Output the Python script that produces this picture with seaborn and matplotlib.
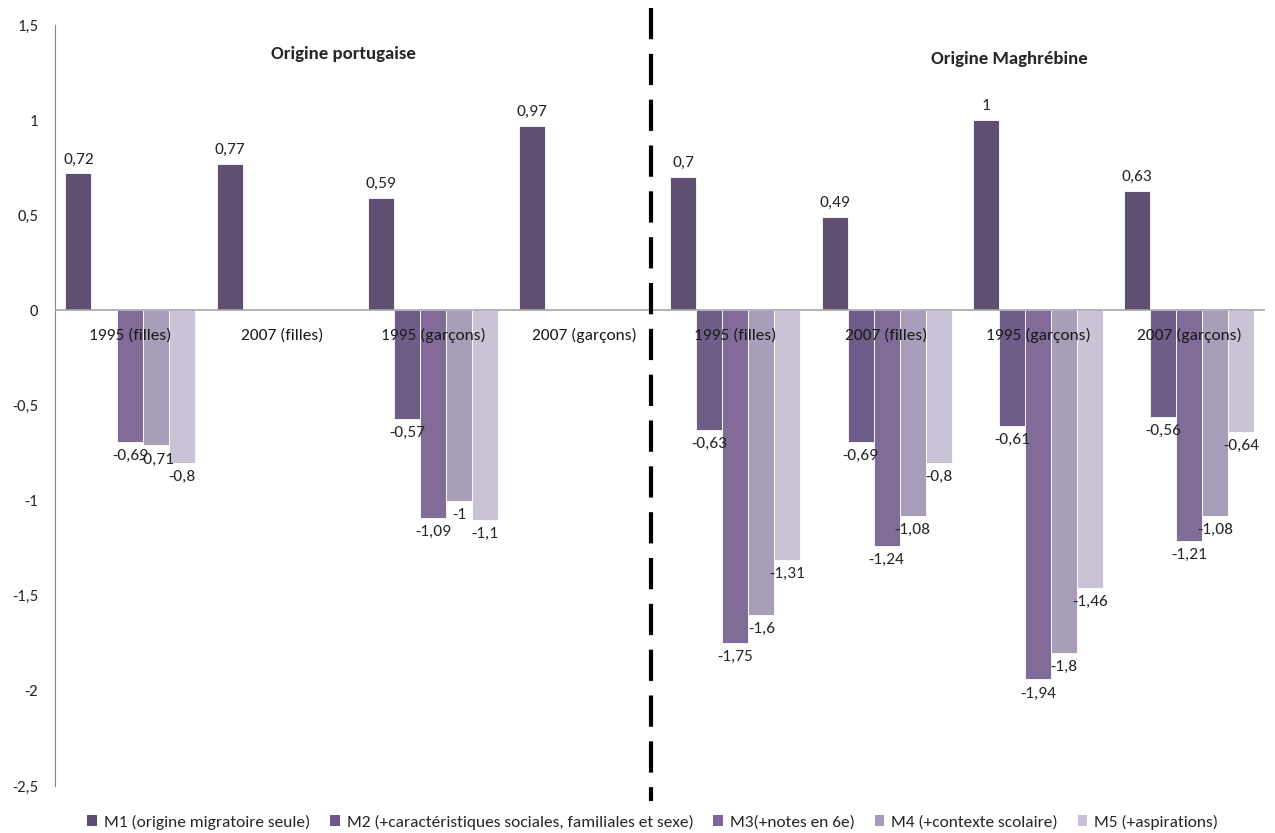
import numpy as np
import pandas as pd
import matplotlib
matplotlib.use("Agg")
import matplotlib.pyplot as plt
import seaborn as sns
from matplotlib.ticker import FuncFormatter
from matplotlib.patches import Patch

categories = ["1995 (filles)", "2007 (filles)", "1995 (garçons)", "2007 (garçons)",
              "1995 (filles) ", "2007 (filles) ", "1995 (garçons) ", "2007 (garçons) "]
series = ["M1 (origine migratoire seule)",
          "M2 (+caractéristiques sociales, familiales et sexe)",
          "M3(+notes en 6e)",
          "M4 (+contexte scolaire)",
          "M5 (+aspirations)"]
m1 = [0.72, 0.77, 0.59, 0.97, 0.70, 0.49, 1.00, 0.63]
m2 = [np.nan, np.nan, -0.57, np.nan, -0.63, -0.69, -0.61, -0.56]
m3 = [-0.69, np.nan, -1.09, np.nan, -1.75, -1.24, -1.94, -1.21]
m4 = [-0.71, np.nan, -1.00, np.nan, -1.60, -1.08, -1.80, -1.08]
m5 = [-0.80, np.nan, -1.10, np.nan, -1.31, -0.80, -1.46, -0.64]
colors = ["#5E4A77", "#6E5690", "#7F63A1", "#A899BE", "#C8C0D8"]

rows = []
for s, vals in zip(series, [m1, m2, m3, m4, m5]):
    for c, v in zip(categories, vals):
        rows.append({"cat": c, "serie": s, "val": v})
df = pd.DataFrame(rows).dropna()

sns.set_style("white")
plt.rcParams["font.family"] = ["Carlito", "Liberation Sans Narrow", "Liberation Sans", "DejaVu Sans"]

fig = plt.figure(figsize=(12.75, 8.33), dpi=100)
ax = fig.add_axes([0.043, 0.0564, 0.949, 0.9136])

sns.barplot(data=df, x="cat", y="val", hue="serie", order=categories, hue_order=series,
            palette=colors, width=0.86, gap=0, dodge=True, errorbar=None,
            edgecolor="white", linewidth=0.6, ax=ax, legend=False)

def fmt(v):
    s = f"{v:.2f}".rstrip("0").rstrip(".")
    return s.replace(".", ",")

for cont in ax.containers:
    labels = [fmt(v) for v in cont.datavalues]
    ax.bar_label(cont, labels=labels, padding=5, fontsize=12.5, color="#262626")

ax.set_ylim(-2.5, 1.5)
ax.set_xlim(-0.5, len(categories) - 0.5)
ax.set_yticks(np.arange(-2.5, 1.51, 0.5))
ax.yaxis.set_major_formatter(FuncFormatter(lambda v, p: fmt(v) if abs(v) > 1e-9 else "0"))
ax.tick_params(axis="y", length=0, pad=12, labelsize=12, labelcolor="#262626")
ax.set_xticks([])
ax.set_xlabel("")
ax.set_ylabel("")
for sp in ["top", "right", "bottom"]:
    ax.spines[sp].set_visible(False)
ax.spines["left"].set_color("#868686")
ax.axhline(0, color="#A6A6A6", lw=1.2, zorder=3)

for i, c in enumerate(categories):
    ax.text(i, -0.13, c.strip(), ha="center", va="center", fontsize=12.5, color="#1a1a1a", zorder=5)

ax.text(1.41, 1.35, "Origine portugaise", ha="center", va="center", fontsize=13.5, fontweight="bold")
ax.text(5.81, 1.32, "Origine Maghrébine", ha="center", va="center", fontsize=13.5, fontweight="bold")

ax.plot([3.44, 3.44], [1.59, -2.58], color="black", lw=3, dashes=(7.5, 3.5), clip_on=False, zorder=6)

handles = [Patch(facecolor=col, edgecolor="none") for col in colors]
fig.legend(handles, series, loc="center", bbox_to_anchor=(0.512, 0.013), ncol=5, frameon=False,
           fontsize=12.5, handlelength=0.55, handleheight=0.55, handletextpad=0.4, columnspacing=1.15)

fig.savefig("out.png", dpi=100)
